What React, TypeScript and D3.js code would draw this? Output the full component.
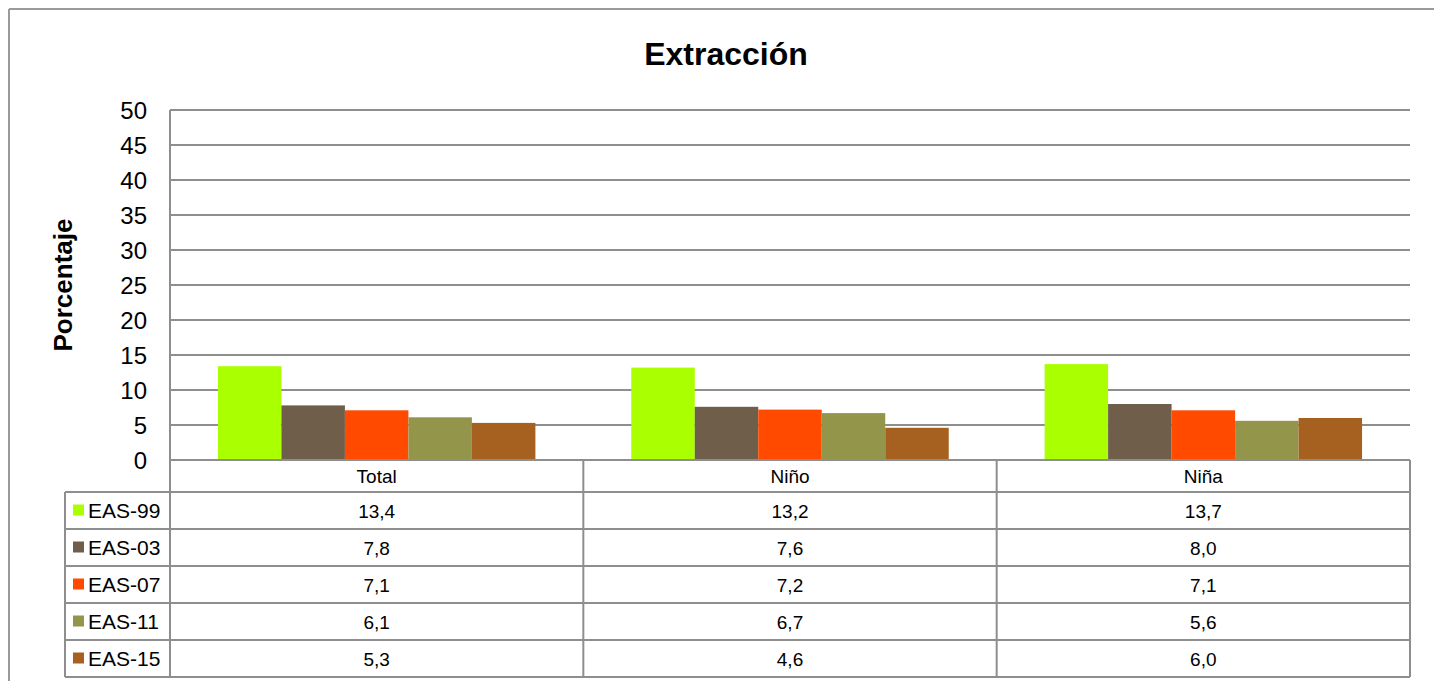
import { useEffect, useRef } from 'react';
import * as d3 from 'd3';

const categories = ['Total', 'Niño', 'Niña'];
const seriesNames = ['EAS-99', 'EAS-03', 'EAS-07', 'EAS-11', 'EAS-15'];
const eas99 = [13.4, 13.2, 13.7];
const eas03 = [7.8, 7.6, 8.0];
const eas07 = [7.1, 7.2, 7.1];
const eas11 = [6.1, 6.7, 5.6];
const eas15 = [5.3, 4.6, 6.0];
const yTicks = [0, 5, 10, 15, 20, 25, 30, 35, 40, 45, 50];
const colors = ['#aaff00', '#6f5f4a', '#ff4a00', '#93954b', '#a66121'];

const W = 1434;
const H = 681;

export default function App() {
  const svgRef = useRef<SVGSVGElement>(null);

  useEffect(() => {
    if (!svgRef.current) return;
    const svg = d3.select(svgRef.current);
    svg.selectAll('*').remove();

    const values = [eas99, eas03, eas07, eas11, eas15];
    const font = 'Arial, "Liberation Sans", sans-serif';
    const lineColor = '#8e8e8e';

    const plot = { left: 170, right: 1410, top: 110, bottom: 460 };
    const rowH = 37;
    const headerH = 32;
    const legendLeft = 65;

    // outer chart border: only top and left show, the rest is off the page
    svg.append('line')
      .attr('x1', 9).attr('x2', W)
      .attr('y1', 9).attr('y2', 9)
      .attr('stroke', '#9a9a9a').attr('stroke-width', 2);
    svg.append('line')
      .attr('x1', 9).attr('x2', 9)
      .attr('y1', 9).attr('y2', H)
      .attr('stroke', '#9a9a9a').attr('stroke-width', 2);

    // title
    svg.append('text')
      .attr('x', 726).attr('y', 65)
      .attr('text-anchor', 'middle')
      .style('font-family', font)
      .style('font-size', '32px')
      .style('font-weight', 'bold')
      .text('Extracción');

    const x = d3.scaleBand<string>()
      .domain(categories)
      .range([plot.left, plot.right]);

    const xInner = d3.scaleBand<string>()
      .domain(seriesNames)
      .range([0, x.bandwidth()])
      .paddingInner(0)
      .paddingOuter(0.755);

    const y = d3.scaleLinear()
      .domain([0, 50])
      .range([plot.bottom, plot.top]);

    // grid lines
    svg.append('g')
      .selectAll('line')
      .data(yTicks.filter(d => d > 0))
      .join('line')
      .attr('x1', plot.left).attr('x2', plot.right)
      .attr('y1', d => y(d)).attr('y2', d => y(d))
      .attr('stroke', lineColor)
      .attr('stroke-width', 2);

    // tick labels
    svg.append('g')
      .selectAll('text')
      .data(yTicks)
      .join('text')
      .attr('x', 147)
      .attr('y', d => y(d) + 9)
      .attr('text-anchor', 'end')
      .style('font-family', font)
      .style('font-size', '24px')
      .text(d => String(d));

    // y axis title
    svg.append('text')
      .attr('transform', `translate(72,${(plot.top + plot.bottom) / 2}) rotate(-90)`)
      .attr('text-anchor', 'middle')
      .style('font-family', font)
      .style('font-size', '26px')
      .style('font-weight', 'bold')
      .text('Porcentaje');

    // bars
    seriesNames.forEach((name, si) => {
      svg.append('g')
        .selectAll('rect')
        .data(values[si])
        .join('rect')
        .attr('x', (d, i) => (x(categories[i]) || 0) + (xInner(name) || 0))
        .attr('y', d => y(d))
        .attr('width', xInner.bandwidth())
        .attr('height', d => y(0) - y(d))
        .attr('fill', colors[si]);
    });

    // data table
    const tableBottom = plot.bottom + headerH + rowH * seriesNames.length;
    const t = svg.append('g');

    // horizontal lines
    t.append('line')
      .attr('x1', plot.left).attr('x2', plot.right)
      .attr('y1', plot.bottom).attr('y2', plot.bottom)
      .attr('stroke', lineColor).attr('stroke-width', 2);
    d3.range(seriesNames.length + 1).forEach(r => {
      const yy = plot.bottom + headerH + r * rowH;
      t.append('line')
        .attr('x1', legendLeft).attr('x2', plot.right)
        .attr('y1', yy).attr('y2', yy)
        .attr('stroke', lineColor).attr('stroke-width', 2);
    });

    // vertical lines
    t.append('line')
      .attr('x1', plot.left).attr('x2', plot.left)
      .attr('y1', plot.top).attr('y2', tableBottom)
      .attr('stroke', lineColor).attr('stroke-width', 2);
    t.append('line')
      .attr('x1', legendLeft).attr('x2', legendLeft)
      .attr('y1', plot.bottom + headerH).attr('y2', tableBottom)
      .attr('stroke', lineColor).attr('stroke-width', 2);
    categories.forEach(c => {
      const xx = (x(c) || 0) + x.bandwidth();
      t.append('line')
        .attr('x1', xx).attr('x2', xx)
        .attr('y1', plot.bottom).attr('y2', tableBottom)
        .attr('stroke', lineColor).attr('stroke-width', 2);
    });

    // header labels
    t.selectAll('.cat')
      .data(categories)
      .join('text')
      .attr('class', 'cat')
      .attr('x', d => (x(d) || 0) + x.bandwidth() / 2)
      .attr('y', plot.bottom + headerH / 2 + 7)
      .attr('text-anchor', 'middle')
      .style('font-family', font)
      .style('font-size', '19px')
      .text(d => d);

    // rows
    seriesNames.forEach((name, si) => {
      const cy = plot.bottom + headerH + si * rowH + rowH / 2;
      t.append('rect')
        .attr('x', 73).attr('y', cy - 6)
        .attr('width', 11).attr('height', 11)
        .attr('fill', colors[si]);
      t.append('text')
        .attr('x', 88).attr('y', cy + 7)
        .style('font-family', font)
        .style('font-size', '21px')
        .text(name);
      t.selectAll(`.v${si}`)
        .data(values[si])
        .join('text')
        .attr('class', `v${si}`)
        .attr('x', (d, i) => (x(categories[i]) || 0) + x.bandwidth() / 2)
        .attr('y', cy + 7)
        .attr('text-anchor', 'middle')
        .style('font-family', font)
        .style('font-size', '19px')
        .text(d => d.toFixed(1).replace('.', ','));
    });
  }, []);

  return (
    <div style={{ position: 'absolute', left: 0, top: 0, width: W, height: H, overflow: 'hidden' }}>
      <svg ref={svgRef} width={W} height={H} style={{ display: 'block', background: 'white' }} />
    </div>
  );
}
